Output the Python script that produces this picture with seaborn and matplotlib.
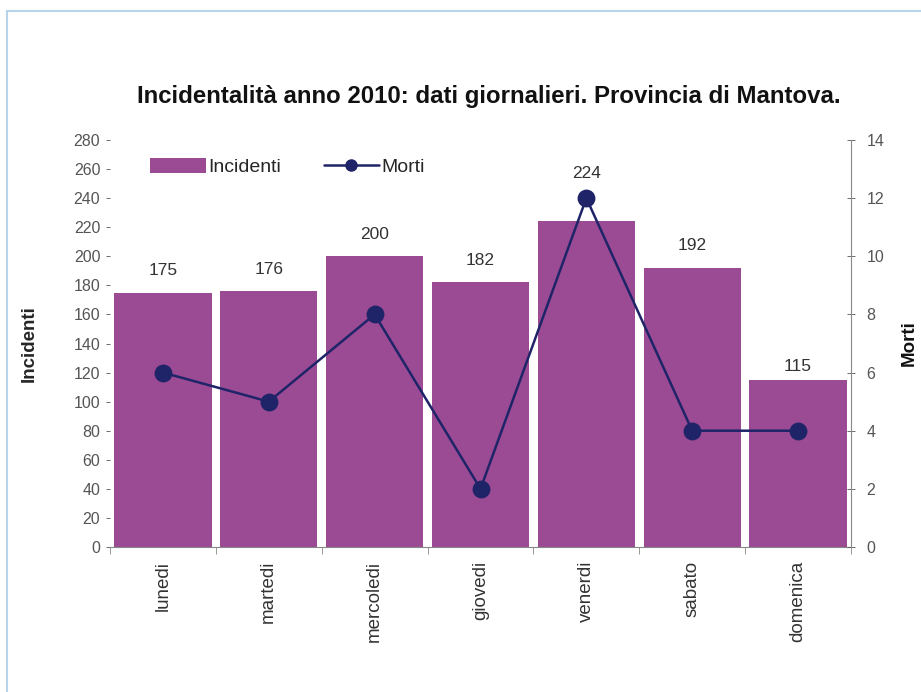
import matplotlib
matplotlib.use("Agg")
import matplotlib.pyplot as plt
import seaborn as sns
import numpy as np
import pandas as pd
from matplotlib.patches import Rectangle
from matplotlib.lines import Line2D
from matplotlib.patches import Patch

giorni = ["lunedi", "martedi", "mercoledi", "giovedi", "venerdi", "sabato", "domenica"]
incidenti = [175, 176, 200, 182, 224, 192, 115]
morti = [6, 5, 8, 2, 12, 4, 4]

sns.set_theme(style="white")
plt.rcParams['font.family'] = ['Liberation Sans', 'DejaVu Sans']

BAR = "#9a4b94"
LINE = "#1f2468"
GRAY = "#555555"

df = pd.DataFrame({"giorno": giorni, "Incidenti": incidenti, "Morti": morti})

fig = plt.figure(figsize=(9.21, 6.92), dpi=100)
W, H = 921, 692
ax = fig.add_axes([110 / W, 1 - 547 / H, (851 - 110) / W, (547 - 140) / H])

sns.barplot(data=df, x="giorno", y="Incidenti", color=BAR, saturation=1,
            width=0.92, ax=ax, edgecolor="none")
ax.set_ylim(0, 280)
ax.set_xlim(-0.5, 6.5)
ax.set_yticks(np.arange(0, 281, 20))
ax.tick_params(axis="y", labelsize=11.5, colors=GRAY, length=3, width=0.6, left=True, pad=4)
ax.tick_params(axis="x", labelsize=13.5, colors="#333333", length=0, pad=10)
for lab in ax.get_xticklabels():
    lab.set_rotation(90)
    lab.set_va("top")
    lab.set_ha("center")
ax.set_xticks(np.arange(-0.5, 7, 1), minor=True)
ax.tick_params(axis="x", which="minor", length=5, width=0.6, color="#888888", bottom=True)
ax.set_xlabel("")
ax.set_ylabel("Incidenti", fontsize=13.5, fontweight="bold", labelpad=26)
for s in ["top", "right", "left"]:
    ax.spines[s].set_visible(False)
ax.spines["bottom"].set_color("#888888")
ax.spines["bottom"].set_linewidth(0.8)

label_offsets = [10, 10, 10, 10, 28, 10, 4]
for i, v in enumerate(incidenti):
    ax.text(i, v + label_offsets[i], str(v), ha="center", va="bottom", fontsize=12.5, color="#333333")

ax2 = ax.twinx()
sns.pointplot(data=df, x="giorno", y="Morti", color=LINE, ax=ax2,
              markers="o", markersize=11.5, linewidth=1.8)
ax2.set_xlim(-0.5, 6.5)
ax2.set_ylim(0, 14)
ax2.set_yticks(np.arange(0, 15, 2))
ax2.tick_params(axis="y", labelsize=11.5, colors=GRAY, length=6, width=0.6,
                direction="inout", right=True, pad=8)
for s in ["top", "left", "bottom"]:
    ax2.spines[s].set_visible(False)
ax2.spines["right"].set_color("#888888")
ax2.spines["right"].set_linewidth(0.8)
ax2.set_ylabel("")
ax2.set_xlabel("")
fig.text(909 / W, 1 - 343 / H, "Morti", rotation=90, ha="center", va="center",
         fontsize=13.5, fontweight="bold", color="#111111")

handles = [Patch(facecolor=BAR, edgecolor="none"),
           Line2D([0], [0], color=LINE, marker="o", markersize=8, linewidth=1.8)]
ax.legend(handles, ["Incidenti", "Morti"], loc="upper left", bbox_to_anchor=(0.036, 0.99),
          ncol=2, frameon=False, fontsize=14, handlelength=2.85, handletextpad=0.12,
          columnspacing=2.2, handleheight=0.8, borderaxespad=0.3)

fig.text(489 / W, 1 - 97 / H, "Incidentalità anno 2010: dati giornalieri. Provincia di Mantova.",
         ha="center", va="center", fontsize=17.3, fontweight="bold", color="#111111")

fig.patches.append(Rectangle((7 / W, -0.1), 1.2, (1 - 11 / H) + 0.1, transform=fig.transFigure,
                             fill=False, edgecolor="#b8d4ea", linewidth=1.5))

fig.savefig("out.png", dpi=100)
